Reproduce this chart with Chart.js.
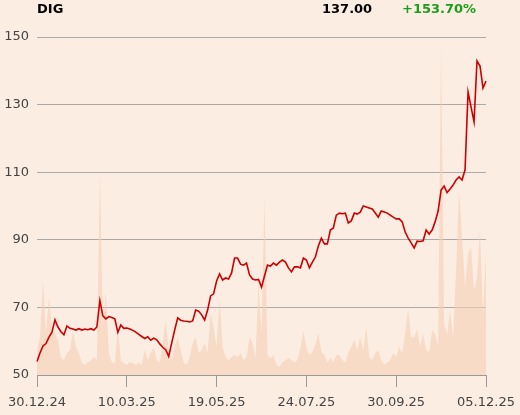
<!DOCTYPE html>
<html><head><meta charset="utf-8">
<script src="https://cdn.jsdelivr.net/npm/chart.js@4.4.1/dist/chart.umd.min.js"></script>
<style>html,body{margin:0;padding:0;background:#FCEDE2;}#wrap{width:520px;height:415px;}</style>
</head><body><div id="wrap"><canvas id="c" width="520" height="415"></canvas></div>
<script>
const symbol = 'DIG';
const lastPrice = '137.00';
const change = '+153.70%';
const tickLabels = ['30.12.24', '10.03.25', '19.05.25', '24.07.25', '30.09.25', '05.12.25'];
const tickEvery = 30;
const prices = [
  54.0, 56.5, 58.6, 59.3, 61.2, 62.7, 66.3, 64.2, 62.8, 61.9,
  64.5, 63.8, 63.6, 63.3, 63.7, 63.3, 63.6, 63.4, 63.7, 63.3,
  64.2, 72.0, 67.5, 66.6, 67.3, 67.0, 66.6, 62.6, 64.8, 63.8,
  63.9, 63.6, 63.2, 62.7, 62.0, 61.4, 60.8, 61.3, 60.3, 60.9,
  60.4, 59.2, 58.2, 57.5, 55.5, 59.5, 63.3, 66.9, 66.2, 66.0,
  65.9, 65.7, 66.0, 69.2, 68.9, 67.8, 66.3, 69.2, 73.4, 74.0,
  77.8, 79.9, 78.1, 78.7, 78.4, 80.2, 84.6, 84.6, 82.8, 82.5,
  83.1, 79.6, 78.4, 78.1, 78.3, 76.0, 79.3, 82.5, 82.2, 83.1,
  82.5, 83.4, 84.0, 83.4, 81.7, 80.5, 82.0, 82.0, 81.7, 84.6,
  84.0, 81.7, 83.4, 84.9, 88.2, 90.5, 88.8, 88.8, 92.9, 93.5,
  97.3, 97.9, 97.7, 97.9, 95.0, 95.6, 97.9, 97.6, 98.2, 100.0,
  99.7, 99.4, 99.1, 97.9, 96.7, 98.5, 98.2, 97.9, 97.3, 96.7,
  96.2, 96.2, 95.3, 92.3, 90.5, 89.1, 87.6, 89.6, 89.5, 89.7,
  92.9, 91.7, 92.9, 95.3, 98.5, 104.7, 105.9, 104.0, 105.0, 106.2,
  107.7, 108.6, 107.7, 110.7, 133.7, 129.3, 124.9, 142.9, 141.4, 134.9,
  137.0
];
const volumes = [
  7.4, 11.2, 28.1, 12.4, 23.1, 13.3, 12.4, 10.4, 5.3, 4.4,
  6.5, 7.4, 12.7, 8.3, 6.5, 3.6, 3.0, 3.8, 4.4, 5.3,
  4.4, 60.1, 14.2, 24.6, 6.5, 3.6, 3.6, 14.2, 4.4, 3.6,
  3.0, 3.8, 3.6, 3.0, 3.6, 3.0, 7.4, 4.4, 6.5, 8.3,
  4.4, 3.6, 9.5, 16.3, 7.4, 4.4, 8.3, 11.2, 7.4, 3.6,
  3.0, 5.3, 9.5, 11.2, 6.5, 7.4, 9.5, 6.5, 18.3, 14.2,
  8.3, 22.8, 8.3, 5.3, 4.4, 5.3, 5.9, 5.3, 6.5, 4.4,
  5.3, 11.2, 9.5, 5.3, 26.6, 12.4, 52.4, 5.9, 5.0, 5.9,
  3.0, 2.4, 3.8, 4.4, 5.0, 4.4, 3.8, 4.4, 8.0, 13.0,
  8.0, 5.9, 6.8, 8.9, 12.4, 6.8, 5.9, 3.8, 5.0, 3.8,
  5.9, 5.9, 4.4, 3.8, 6.5, 8.3, 10.4, 7.4, 11.2, 7.4,
  14.2, 5.3, 4.4, 6.5, 7.4, 4.4, 3.0, 3.6, 4.4, 6.5,
  5.3, 8.3, 6.5, 12.4, 19.5, 11.2, 11.2, 13.3, 8.3, 12.1,
  7.4, 6.8, 13.3, 12.1, 8.3, 97.9, 15.1, 12.1, 19.2, 11.2,
  31.1, 54.7, 40.8, 26.0, 35.8, 37.9, 25.1, 29.0, 43.2, 18.0,
  36.4
];
const categories = prices.map((_, i) => i);

Chart.defaults.font.family = '"DejaVu Sans", sans-serif';
Chart.defaults.font.size = 13;
Chart.defaults.color = '#444';

const bgPlugin = {
  id: 'bg',
  beforeDraw(chart) {
    const ctx = chart.ctx;
    ctx.save();
    ctx.fillStyle = '#FCEDE2';
    ctx.fillRect(0, 0, chart.width, chart.height);
    ctx.restore();
  }
};
const headerPlugin = {
  id: 'header',
  afterDraw(chart) {
    const ctx = chart.ctx;
    ctx.save();
    ctx.font = 'bold 13px "DejaVu Sans", sans-serif';
    ctx.textBaseline = 'middle';
    ctx.textAlign = 'left';
    ctx.fillStyle = '#000';
    ctx.fillText(symbol, 37, 10);
    ctx.fillText(lastPrice, 322, 10);
    ctx.fillStyle = '#1a9e1a';
    ctx.fillText(change, 402, 10);
    ctx.restore();
  }
};

new Chart(document.getElementById('c'), {
  type: 'line',
  data: {
    labels: categories,
    datasets: [
      {
        label: 'Price',
        data: prices,
        yAxisID: 'y',
        borderColor: '#cc0000',
        borderWidth: 1.6,
        pointRadius: 0,
        tension: 0,
        fill: false,
        order: 1
      },
      {
        label: 'Volume',
        data: volumes,
        yAxisID: 'y2',
        borderWidth: 0,
        borderColor: 'rgba(0,0,0,0)',
        backgroundColor: 'rgba(245,207,180,0.6)',
        pointRadius: 0,
        tension: 0,
        fill: 'origin',
        order: 2
      }
    ]
  },
  options: {
    responsive: false,
    animation: false,
    devicePixelRatio: 1,
    layout: { padding: { top: 37, right: 34, bottom: 0, left: 0 } },
    plugins: { legend: { display: false }, tooltip: { enabled: false } },
    scales: {
      x: {
        type: 'category',
        offset: false,
        grid: { display: true, drawOnChartArea: false, drawTicks: true, tickLength: 12, color: '#999', lineWidth: 1 },
        border: { display: true, color: '#999' },
        ticks: {
          autoSkip: false, maxRotation: 0, minRotation: 0, padding: 8,
          callback: (v, i) => (i % tickEvery === 0 ? tickLabels[i / tickEvery] : null)
        },
        afterFit(s) { s.height = 40; s.paddingLeft = 0; s.paddingRight = 0; }
      },
      y: {
        position: 'left',
        min: 50, max: 150,
        ticks: { stepSize: 20, padding: 8 },
        grid: { color: '#aaa', drawTicks: false, lineWidth: 1 },
        border: { display: false },
        afterFit(s) { s.width = 37; s.paddingTop = 0; s.paddingBottom = 0; }
      },
      y2: { display: false, min: 0, max: 100 }
    }
  },
  plugins: [bgPlugin, headerPlugin]
});
</script>
</body></html>
